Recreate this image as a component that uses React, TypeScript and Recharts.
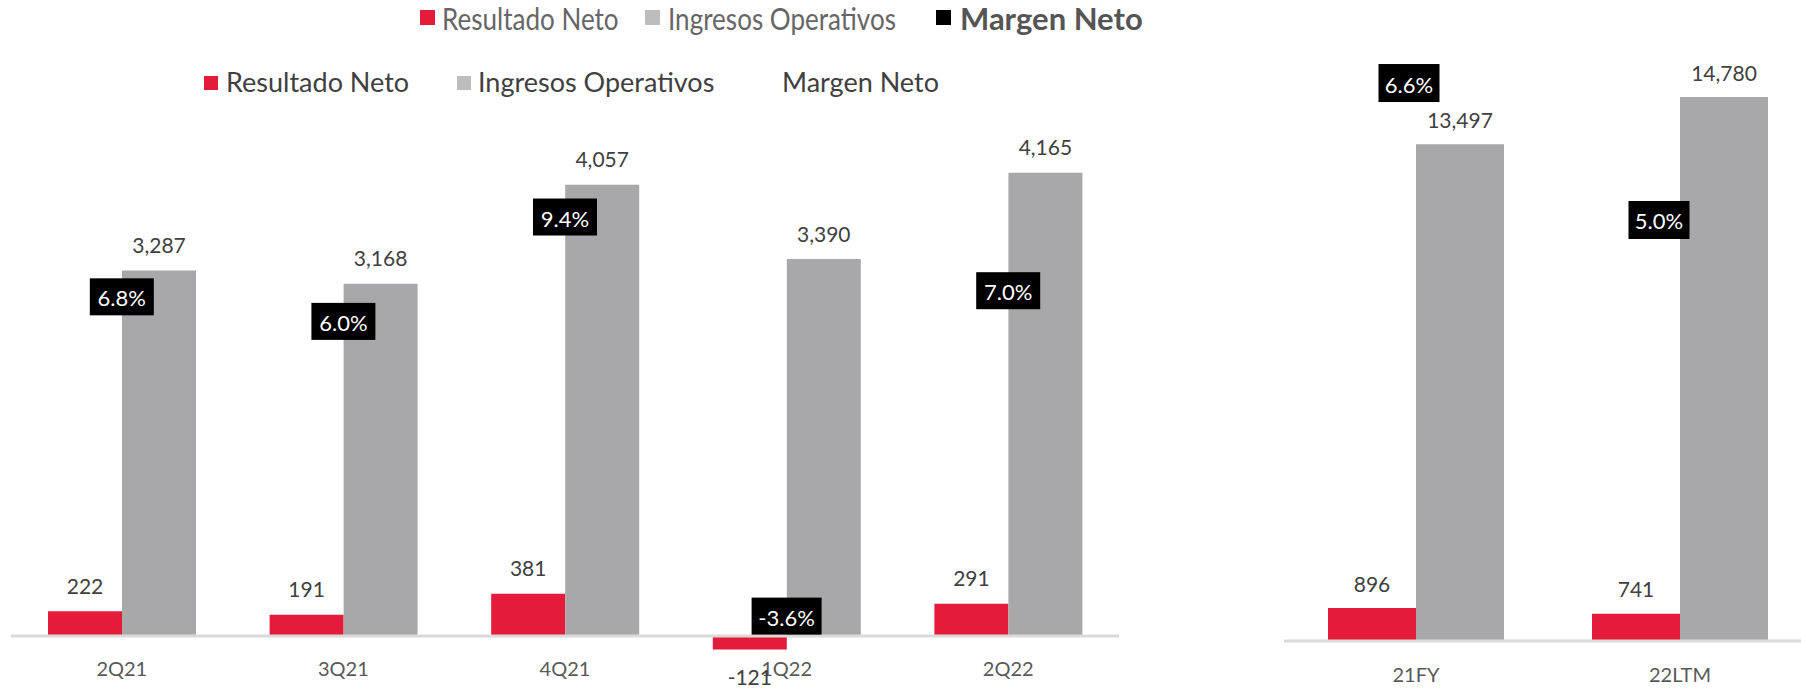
import React from "react";
import {
  ComposedChart,
  Bar,
  Line,
  XAxis,
  YAxis,
  LabelList,
  ReferenceLine,
} from "recharts";

// quarterly chart
const quarters = ["2Q21", "3Q21", "4Q21", "1Q22", "2Q22"];
const resultadoQ = [222, 191, 381, -121, 291];
const ingresosQ = [3287, 3168, 4057, 3390, 4165];
const margenQ = [6.8, 6.0, 9.4, -3.6, 7.0];

// yearly chart
const years = ["21FY", "22LTM"];
const resultadoY = [896, 741];
const ingresosY = [13497, 14780];
const margenY = [6.6, 5.0];

const RED = "#E41B3A";
const GRAY = "#A8A8AA";
const FONT = "Lato, 'Open Sans', sans-serif";

const quarterData = quarters.map((cat, i) => ({
  cat,
  resultado: resultadoQ[i],
  ingresos: ingresosQ[i],
  margen: margenQ[i],
}));

const yearData = years.map((cat, i) => ({
  cat,
  resultado: resultadoY[i],
  ingresos: ingresosY[i],
  margen: margenY[i],
}));

const fmt = (v: number) => v.toLocaleString("en-US");

const valueLabel = (gap: number) => (props: any) => {
  const { x, y, width, height, value } = props;
  const top = Math.min(y, y + height);
  const bottom = Math.max(y, y + height);
  const cy = value >= 0 ? top - gap : bottom + 27;
  return (
    <text
      x={x + width / 2}
      y={cy}
      textAnchor="middle"
      dominantBaseline="central"
      fill="#404040"
      fontSize={21}
      fontFamily={FONT}
    >
      {fmt(value)}
    </text>
  );
};

const marginLabel = (w: number, h: number) => (props: any) => {
  const { x, y, value } = props;
  const bw = value < 0 ? w + 6 : w;
  return (
    <g>
      <rect x={x - bw / 2} y={y - h / 2} width={bw} height={h} fill="#000" />
      <text
        x={x}
        y={y + 1}
        textAnchor="middle"
        dominantBaseline="central"
        fill="#fff"
        fontSize={22}
        fontFamily={FONT}
      >
        {value.toFixed(1) + "%"}
      </text>
    </g>
  );
};

const tickStyle = { fill: "#595959", fontSize: 20, fontFamily: FONT };

function Square({ left, top, size, color }: any) {
  return (
    <div
      style={{
        position: "absolute",
        left,
        top,
        width: size,
        height: size,
        background: color,
      }}
    />
  );
}

function Txt({ left, top, size, color, weight, sx, children }: any) {
  return (
    <div
      style={{
        position: "absolute",
        left,
        top,
        lineHeight: "36px",
        fontSize: size,
        color,
        fontWeight: weight || 400,
        fontFamily: FONT,
        whiteSpace: "nowrap",
        transform: sx ? `scaleX(${sx})` : undefined,
        transformOrigin: "left center",
      }}
    >
      {children}
    </div>
  );
}

export default function App() {
  return (
    <div
      style={{
        position: "absolute",
        left: 0,
        top: 0,
        width: 1801,
        height: 689,
        background: "#fff",
        overflow: "hidden",
        fontFamily: FONT,
      }}
    >
      {/* top legend */}
      <Square left={420} top={10} size={15} color={RED} />
      <Txt left={442} top={0} size={31} color="#666" sx={0.84}>
        Resultado Neto
      </Txt>
      <Square left={645} top={10} size={15} color="#BDBDBD" />
      <Txt left={668} top={0} size={31} color="#666" sx={0.84}>
        Ingresos Operativos
      </Txt>
      <Square left={936} top={10} size={15} color="#000" />
      <Txt left={960} top={0} size={31} color="#555" weight={700}>
        Margen Neto
      </Txt>

      {/* chart legend */}
      <Square left={204} top={76} size={14} color={RED} />
      <Txt left={226} top={64} size={27} color="#404040">
        Resultado Neto
      </Txt>
      <Square left={457} top={76} size={14} color="#BDBDBD" />
      <Txt left={478} top={64} size={27} color="#404040">
        Ingresos Operativos
      </Txt>
      <Txt left={782} top={64} size={27} color="#404040">
        Margen Neto
      </Txt>

      <div style={{ position: "absolute", left: 0, top: 0 }}>
        <ComposedChart
          width={1130}
          height={689}
          data={quarterData}
          margin={{ top: 80, right: 11, bottom: 0, left: 11 }}
          barGap={0}
        >
          <XAxis
            dataKey="cat"
            height={30}
            axisLine={false}
            tickLine={false}
            tickSize={0}
            tickMargin={3}
            tick={tickStyle}
            interval={0}
          />
          <YAxis yAxisId="v" hide domain={[-206.8, 5000]} allowDataOverflow />
          <YAxis yAxisId="m" hide orientation="right" domain={[-4.997, 13.863]} allowDataOverflow />
          <ReferenceLine yAxisId="v" y={0} stroke="#D9D9D9" strokeWidth={3} />
          <Bar yAxisId="v" dataKey="resultado" fill={RED} barSize={74} isAnimationActive={false}>
            <LabelList dataKey="resultado" content={valueLabel(26)} />
          </Bar>
          <Bar yAxisId="v" dataKey="ingresos" fill={GRAY} barSize={74} isAnimationActive={false}>
            <LabelList dataKey="ingresos" content={valueLabel(26)} />
          </Bar>
          <Line
            yAxisId="m"
            dataKey="margen"
            stroke="none"
            dot={false}
            activeDot={false}
            isAnimationActive={false}
          >
            <LabelList dataKey="margen" content={marginLabel(64, 37)} />
          </Line>
        </ComposedChart>
      </div>

      <div style={{ position: "absolute", left: 1200, top: 0 }}>
        <ComposedChart
          width={612}
          height={689}
          data={yearData}
          margin={{ top: 60, right: 0, bottom: 0, left: 84 }}
          barGap={0}
        >
          <XAxis
            dataKey="cat"
            height={25}
            axisLine={false}
            tickLine={false}
            tickSize={0}
            tickMargin={4}
            tick={tickStyle}
            interval={0}
          />
          <XAxis xAxisId="m" dataKey="cat" hide padding={{ left: 0, right: 28 }} />
          <YAxis yAxisId="v" hide domain={[-625, 15788]} allowDataOverflow />
          <YAxis yAxisId="m" hide orientation="right" domain={[-0.187, 6.869]} allowDataOverflow />
          <ReferenceLine yAxisId="v" y={0} stroke="#D9D9D9" strokeWidth={3} />
          <Bar yAxisId="v" dataKey="resultado" fill={RED} barSize={88} isAnimationActive={false}>
            <LabelList dataKey="resultado" content={valueLabel(25)} />
          </Bar>
          <Bar yAxisId="v" dataKey="ingresos" fill={GRAY} barSize={88} isAnimationActive={false}>
            <LabelList dataKey="ingresos" content={valueLabel(25)} />
          </Bar>
          <Line
            xAxisId="m"
            yAxisId="m"
            dataKey="margen"
            stroke="none"
            dot={false}
            activeDot={false}
            isAnimationActive={false}
          >
            <LabelList dataKey="margen" content={marginLabel(61, 38)} />
          </Line>
        </ComposedChart>
      </div>
    </div>
  );
}
